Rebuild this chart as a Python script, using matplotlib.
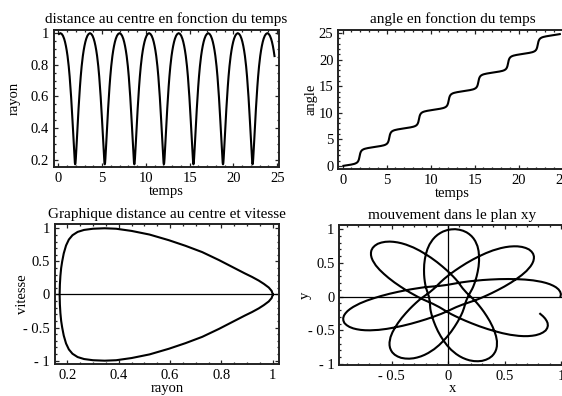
import numpy as np
import matplotlib
matplotlib.use("Agg")
import matplotlib.pyplot as plt
from matplotlib.ticker import MultipleLocator, FuncFormatter

plt.rcParams['font.family'] = ['Liberation Serif', 'DejaVu Serif']

# One radial oscillation, measured from the pericentre (the other half mirrors it):
# time offset, distance to the centre, radial speed and angle swept since pericentre.
TAU_HALF = [0.0, 0.0113, 0.0208, 0.0303, 0.0378, 0.0473, 0.0596, 0.0728, 0.0879,
            0.1087, 0.1333, 0.1673, 0.2099, 0.2524, 0.3101, 0.3810, 0.4632, 0.5427,
            0.6315, 0.7374, 0.8726, 0.9662, 1.0598, 1.1628, 1.2650, 1.4011, 1.5382,
            1.6885]
R_HALF = [0.170, 0.171, 0.173, 0.176, 0.180, 0.186, 0.195, 0.206, 0.220,
          0.240, 0.265, 0.300, 0.345, 0.390, 0.450, 0.520, 0.595, 0.660,
          0.725, 0.790, 0.855, 0.890, 0.919, 0.945, 0.965, 0.984, 0.995,
          1.000]
V_HALF = [0.00, 0.15, 0.28, 0.40, 0.50, 0.62, 0.74, 0.83, 0.895,
          0.945, 0.975, 0.993, 1.00, 0.993, 0.96, 0.905, 0.82, 0.735,
          0.64, 0.52, 0.39, 0.32, 0.265, 0.21, 0.16, 0.105, 0.055,
          0.0]
DTHETA_HALF = [0.0, 0.0965, 0.176, 0.253, 0.312, 0.383, 0.467, 0.548, 0.631,
               0.729, 0.825, 0.932, 1.035, 1.114, 1.197, 1.272, 1.339, 1.390,
               1.436, 1.482, 1.532, 1.562, 1.590, 1.620, 1.647, 1.683, 1.718,
               1.755]

# Pericentre passages: time and polar angle
PERI_TIMES = [-1.457, 1.920, 5.297, 8.674, 12.051, 15.428, 18.805, 22.182, 25.559]
PERI_ANGLES = [-1.72, 1.79, 5.30, 8.81, 12.32, 15.83, 19.34, 22.85, 26.36]
T_START, T_END = 0.0, 24.75

TITLES = ["distance au centre en fonction du temps", "angle en fonction du temps",
          "Graphique distance au centre et vitesse", "mouvement dans le plan xy"]
XLABELS = ["temps", "temps", "rayon", "x"]
YLABELS = ["rayon", "angle", "vitesse", "y"]

# ---- assemble the trajectory -------------------------------------------------
tau_h = np.array(TAU_HALF)
tau_c = np.concatenate([-tau_h[:0:-1], tau_h[:-1]])
r_c = np.concatenate([np.array(R_HALF)[:0:-1], np.array(R_HALF)[:-1]])
v_c = np.concatenate([-np.array(V_HALF)[:0:-1], np.array(V_HALF)[:-1]])
th_c = np.concatenate([-np.array(DTHETA_HALF)[:0:-1], np.array(DTHETA_HALF)[:-1]])

t = np.concatenate([tp + tau_c for tp in PERI_TIMES])
r = np.tile(r_c, len(PERI_TIMES))
theta = np.concatenate([ap + th_c for ap in PERI_ANGLES])
keep = (t >= T_START) & (t <= T_END)
t, r, theta = t[keep], r[keep], theta[keep]
x = r * np.cos(theta)
y = r * np.sin(theta)

r_loop = np.append(r_c, r_c[0])
v_loop = np.append(v_c, v_c[0])

# ---- figure -----------------------------------------------------------------
W, H = 562, 396
fig = plt.figure(figsize=(W / 100, H / 100), dpi=100)
fig.patch.set_facecolor('white')


def px_axes(left, top, right, bottom):
    return fig.add_axes([left / W, 1 - bottom / H, (right - left) / W, (bottom - top) / H])


def fmt(v, pos):
    s = f"{abs(v):g}"
    if abs(v) < 1e-9:
        return "0"
    return ("- " + s) if v < 0 else s


frames = [(54, 30, 279, 166.7), (338.3, 30, 566.5, 169),
          (55, 224.3, 279.3, 364), (339.3, 225, 565.5, 365)]
axes = [px_axes(*f) for f in frames]

LW = 1.5
ax1, ax2, ax3, ax4 = axes
ax1.plot(t, r, color='black', lw=LW, solid_joinstyle='round')
ax1.set_xlim(-0.5, 25.2)
ax1.set_ylim(0.155, 1.02)

ax2.plot(t, theta, color='black', lw=LW, solid_joinstyle='round')
ax2.set_xlim(-0.5, 25.45)
ax2.set_ylim(-0.6, 25.6)

ax3.axhline(0, color='black', lw=0.9)
ax3.plot(r_loop, v_loop, color='black', lw=LW, solid_joinstyle='round')
ax3.set_xlim(0.152, 1.025)
ax3.set_ylim(-1.05, 1.06)

ax4.axhline(0, color='black', lw=0.9)
ax4.axvline(0, color='black', lw=0.9)
ax4.plot(x, y, color='black', lw=LW, solid_joinstyle='round')
ax4.set_xlim(-0.965, 1.04)
ax4.set_ylim(-1.015, 1.06)

majors = [(5, 0.2), (5, 5), (0.2, 0.5), (0.5, 0.5)]
minors = [(1, 0.05), (1, 1), (0.05, 0.1), (0.1, 0.1)]
for ax, (mx, my), (nx, ny) in zip(axes, majors, minors):
    ax.xaxis.set_major_locator(MultipleLocator(mx))
    ax.yaxis.set_major_locator(MultipleLocator(my))
    ax.xaxis.set_minor_locator(MultipleLocator(nx))
    ax.yaxis.set_minor_locator(MultipleLocator(ny))
    ax.xaxis.set_major_formatter(FuncFormatter(fmt))
    ax.yaxis.set_major_formatter(FuncFormatter(fmt))
    ax.tick_params(which='both', direction='in', top=True, right=True,
                   color='#222222', width=0.9)
    ax.tick_params(which='major', length=2.8, labelsize=10.5, pad=3.5)
    ax.tick_params(which='minor', length=1.6)
    for sp in ax.spines.values():
        sp.set_linewidth(1.4)
        sp.set_color('#222222')

# titles and axis labels
title_base = [23.3, 23.3, 218.3, 219]
xlabel_base = [195, 196.7, 392, 392.5]
ylabel_x = [14, 310.5, 22.5, 305]
for i, ax in enumerate(axes):
    l, tp, rt, bt = frames[i]
    cx = (l + rt) / 2
    fig.text(cx / W, 1 - title_base[i] / H, TITLES[i], ha='center', va='baseline',
             fontsize=11)
    fig.text(cx / W, 1 - xlabel_base[i] / H, XLABELS[i], ha='center', va='baseline',
             fontsize=10.5)
    fig.text(ylabel_x[i] / W, 1 - ((tp + bt) / 2) / H, YLABELS[i], ha='center',
             va='center', rotation=90, fontsize=10.5)

fig.savefig('out.png', dpi=100, facecolor='white')
